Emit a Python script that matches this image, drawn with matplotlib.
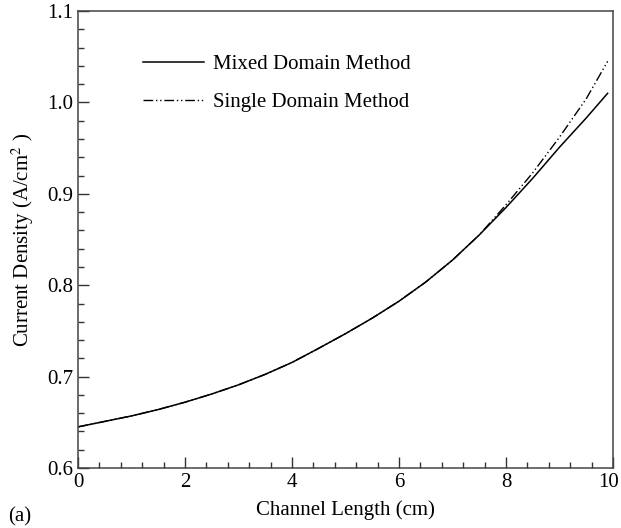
import matplotlib
matplotlib.use("Agg")
import matplotlib.pyplot as plt
from matplotlib.ticker import MultipleLocator
from matplotlib.transforms import ScaledTranslation

# current density along the channel, two solution methods
channel_length = [0.0, 0.5, 1.0, 1.5, 2.0, 2.5, 3.0, 3.5, 4.0, 4.5, 5.0,
                  5.5, 6.0, 6.5, 7.0, 7.5, 8.0, 8.5, 9.0, 9.5, 9.9]
mixed_domain = [0.645, 0.651, 0.657, 0.664, 0.672, 0.681, 0.691, 0.7025, 0.7155,
                0.731, 0.747, 0.764, 0.7825, 0.8035, 0.8275, 0.855, 0.885, 0.917,
                0.951, 0.983, 1.010]
single_domain = [0.645, 0.651, 0.657, 0.664, 0.672, 0.681, 0.691, 0.7025, 0.7155,
                 0.731, 0.747, 0.764, 0.7825, 0.8035, 0.8275, 0.855, 0.888, 0.923,
                 0.962, 1.004, 1.045]

plt.rcParams["font.family"] = ["Liberation Serif", "DejaVu Serif"]
plt.rcParams["mathtext.fontset"] = "stix"

fig = plt.figure(figsize=(6.21, 5.28), dpi=100)
ax = fig.add_axes([0.1256, 0.1136, 0.8615, 0.8655])

ax.plot(channel_length, mixed_domain, color="black", lw=1.1,
        label="Mixed Domain Method")
ax.plot(channel_length, single_domain, color="black", lw=1.0,
        dashes=(7, 2, 1, 2, 1, 2), label="Single Domain Method")

ax.set_xlim(0, 10)
ax.set_ylim(0.6, 1.1)
ax.xaxis.set_major_locator(MultipleLocator(2))
ax.xaxis.set_minor_locator(MultipleLocator(0.4))
ax.yaxis.set_major_locator(MultipleLocator(0.1))
ax.yaxis.set_minor_locator(MultipleLocator(0.02))
ax.tick_params(which="both", direction="in", top=False, right=False,
               labelsize=15, color="#333333")
ax.tick_params(which="major", length=8, width=1)
ax.tick_params(which="minor", length=4.3, width=1)
ax.yaxis.set_major_formatter(plt.FuncFormatter(lambda v, p: f"{v:.1f}"))
for s in ax.spines.values():
    s.set_color("#444444")
    s.set_linewidth(1.1)

ax.set_xlabel("Channel Length (cm)", fontsize=15, labelpad=6)
ax.set_ylabel(r"Current Density (A/cm$^{2}$ )", fontsize=15, labelpad=8)

ax.legend(loc="upper left", bbox_to_anchor=(0.1025, 0.928), frameon=False,
          fontsize=15, handlelength=2.9, handletextpad=0.45, labelspacing=0.88,
          borderpad=0)

fig.text(0.013, 0.012, "(a)", fontsize=15)

# nudge the "10" label left so it stays inside the figure
fig.canvas.draw()
for t in ax.xaxis.get_major_ticks():
    if t.get_loc() is not None and abs(t.get_loc() - 10) < 1e-9:
        t.label1.set_transform(t.label1.get_transform()
                               + ScaledTranslation(-0.04, 0, fig.dpi_scale_trans))

fig.savefig("out.png", dpi=100)
